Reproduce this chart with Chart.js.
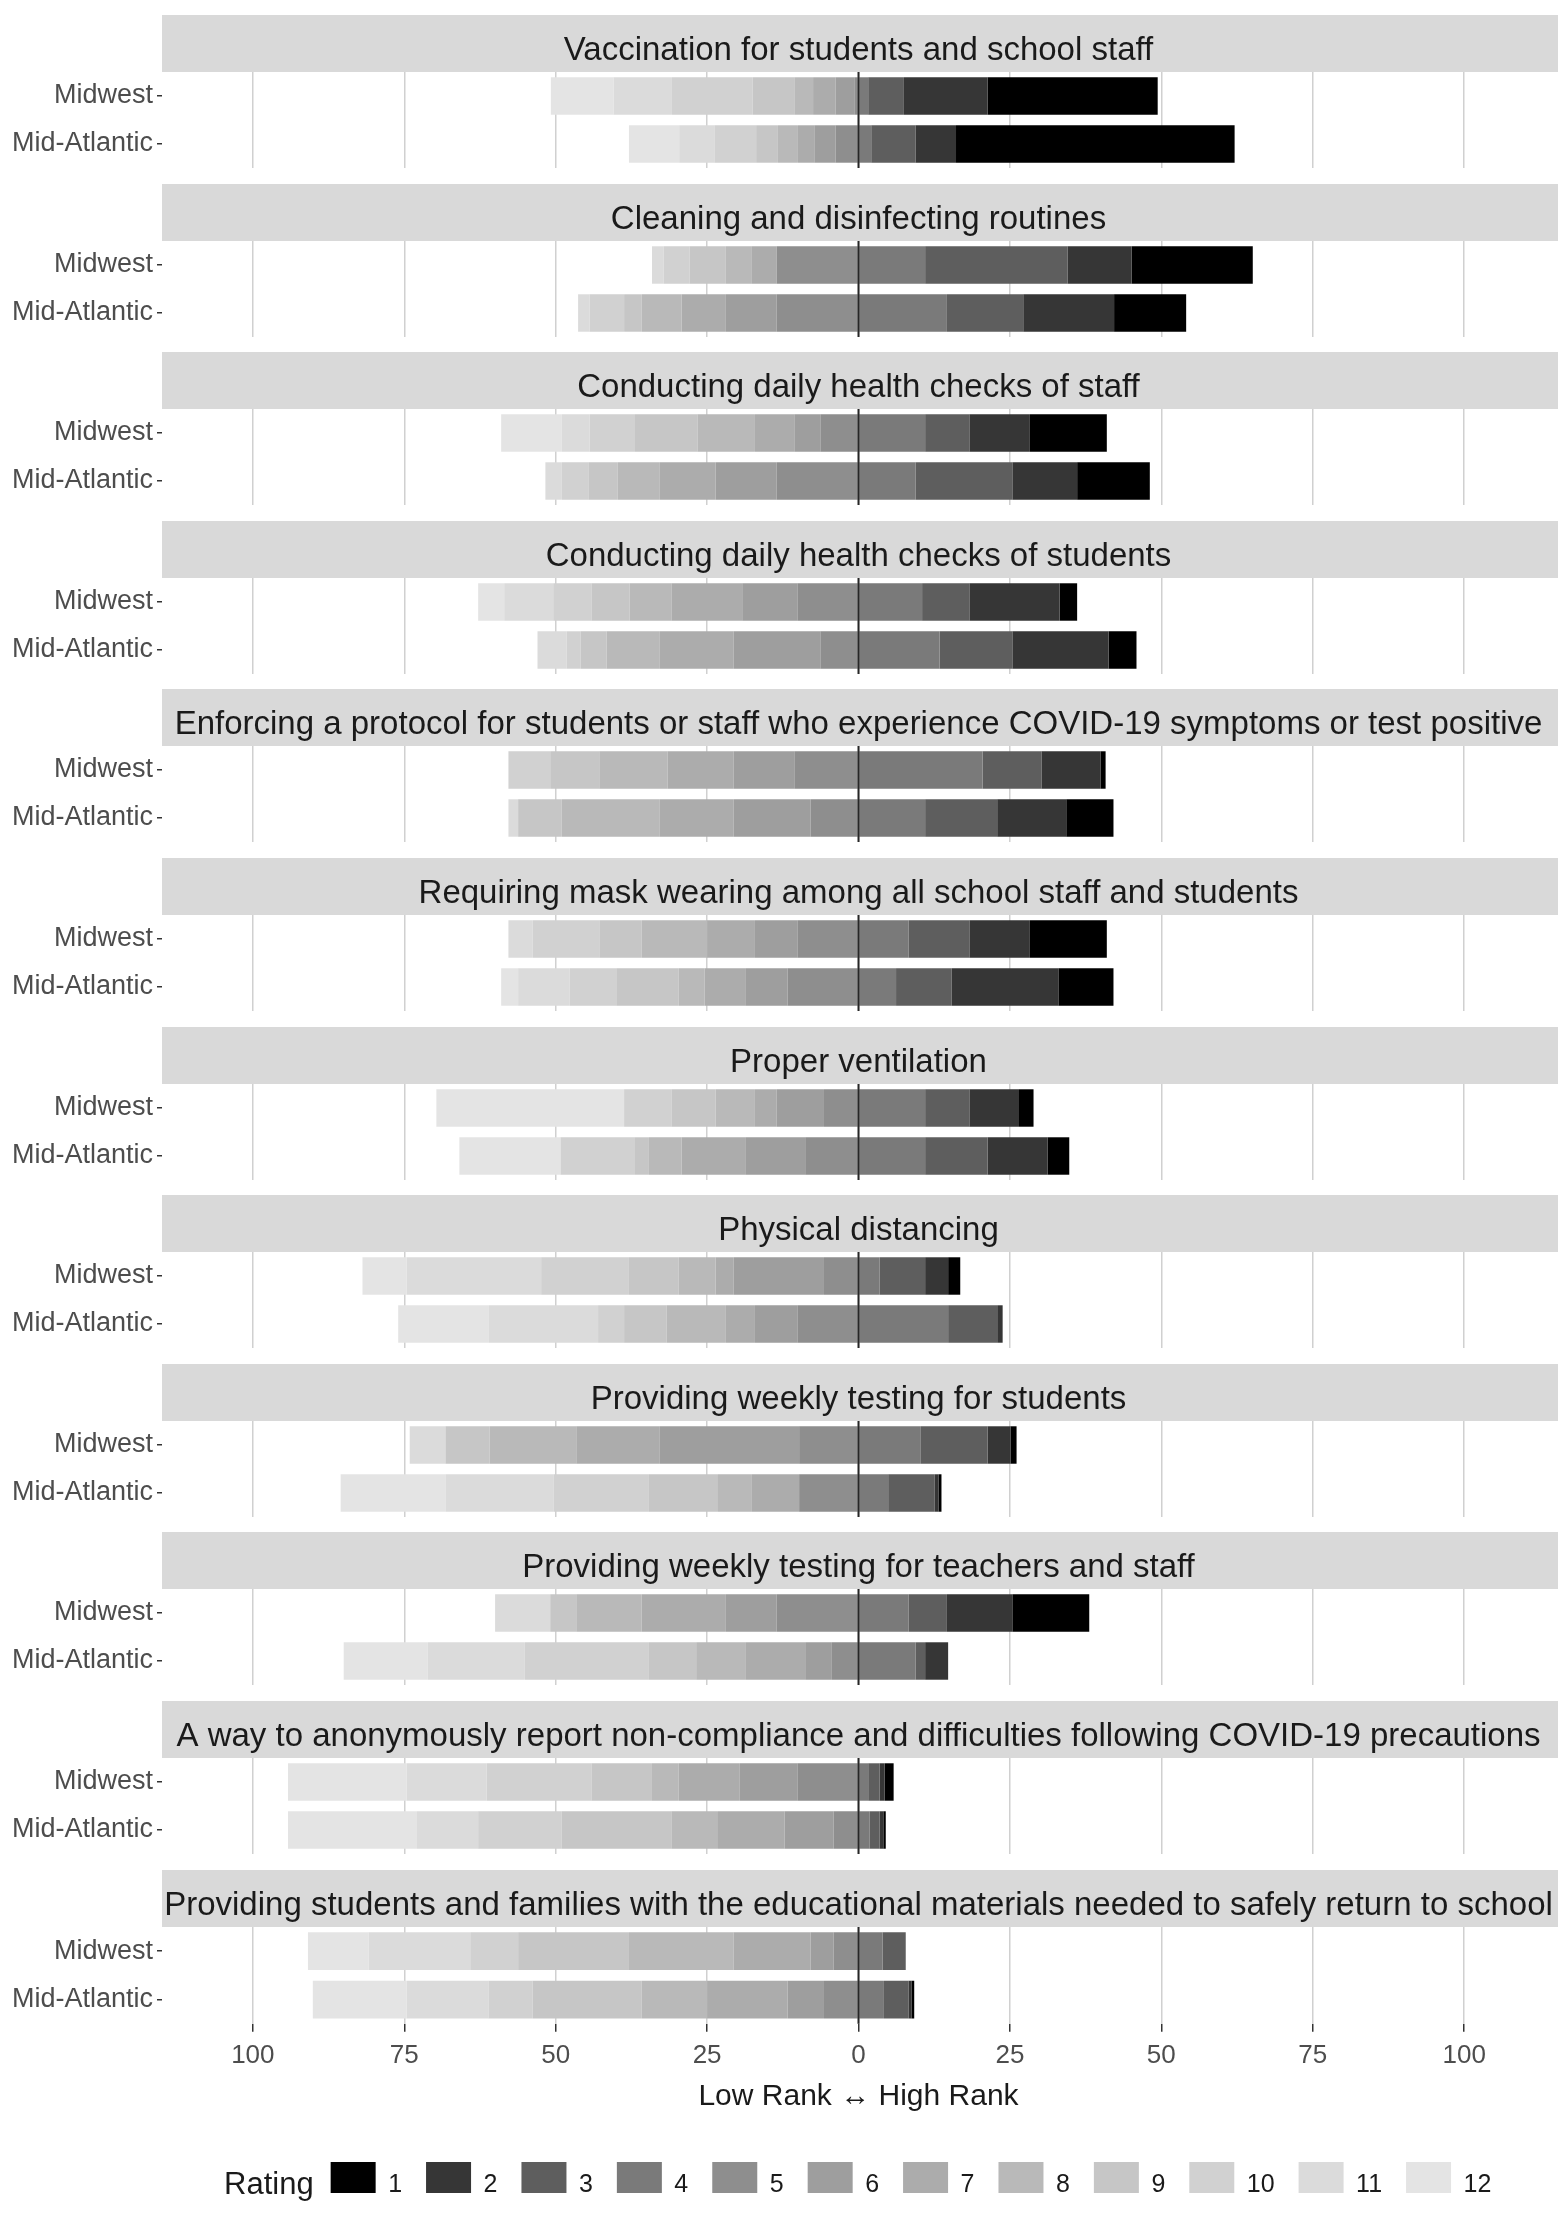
<!DOCTYPE html>
<html>
<head>
<meta charset="utf-8">
<script src="https://cdn.jsdelivr.net/npm/chart.js@4.4.1/dist/chart.umd.min.js"></script>
<style>
  html, body { margin: 0; padding: 0; background: #ffffff; width: 1559px; height: 2213px; overflow: hidden; }
  .facet { position: absolute; left: 0; width: 1559px; }
  #legendWrap { position: absolute; left: 0; width: 1559px; overflow: hidden; }
  #legendInner { position: relative; width: 1822px; height: 110px; }
</style>
</head>
<body>
<div id="root"></div>
<div id="legendWrap"><div id="legendInner"><canvas id="legendCanvas"></canvas></div></div>
<script>
const FONT = "'Liberation Sans', Arial, Helvetica, sans-serif";

const facetTitles = [
  'Vaccination for students and school staff',
  'Cleaning and disinfecting routines',
  'Conducting daily health checks of staff',
  'Conducting daily health checks of students',
  'Enforcing a protocol for students or staff who experience COVID-19 symptoms or test positive',
  'Requiring mask wearing among all school staff and students',
  'Proper ventilation',
  'Physical distancing',
  'Providing weekly testing for students',
  'Providing weekly testing for teachers and staff',
  'A way to anonymously report non-compliance and difficulties following COVID-19 precautions',
  'Providing students and families with the educational materials needed to safely return to school'
];
const regions = ['Midwest', 'Mid-Atlantic'];
const rankLabels = ['1','2','3','4','5','6','7','8','9','10','11','12'];
const rankColors = ['#000000','#363636','#5e5e5e','#7a7a7a','#8e8e8e','#9e9e9e','#acacac','#b9b9b9','#c6c6c6','#d1d1d1','#dbdbdb','#e4e4e4'];
const xTickValues = [-100, -75, -50, -25, 0, 25, 50, 75, 100];
const xAxisTitle = 'Low Rank \u2194 High Rank';
const legendTitle = 'Rating';
const highRankCount = 4; // ranks 1-4 plotted right of zero, ranks 5-12 left of zero

// percentages for ranks 1..12, rows: [Midwest, Mid-Atlantic]
const vaccination   = [[28.1, 13.8, 5.9, 1.6, 0.6, 3.2, 3.7, 3.1, 6.9, 13.3, 9.6, 10.4],
                       [46.0, 6.7, 7.3, 2.1, 3.8, 3.5, 2.7, 3.3, 3.6, 6.9, 5.8, 8.3]];
const cleaning      = [[20.0, 10.6, 23.5, 11.0, 13.5, 0, 4.1, 4.3, 6.0, 4.3, 1.9, 0],
                       [11.9, 15.0, 12.6, 14.6, 13.5, 8.4, 7.3, 6.6, 2.9, 5.7, 1.9, 0]];
const staffChecks   = [[12.7, 10.0, 7.3, 11.0, 6.3, 4.3, 6.5, 9.5, 10.3, 7.5, 4.6, 10.0],
                       [12.0, 10.7, 16.0, 9.4, 13.5, 10.1, 9.2, 7.0, 4.8, 4.4, 2.7, 0]];
const studentChecks = [[2.9, 14.9, 7.8, 10.5, 10.1, 9.1, 11.7, 6.9, 6.3, 6.3, 8.1, 4.3],
                       [4.6, 15.9, 12.0, 13.4, 6.3, 14.3, 12.2, 8.8, 4.3, 2.3, 4.8, 0]];
const protocol      = [[0.8, 9.8, 9.7, 20.5, 10.6, 10.0, 10.9, 11.3, 8.1, 6.9, 0, 0],
                       [7.8, 11.4, 11.9, 11.0, 7.9, 12.7, 12.2, 16.2, 7.2, 0, 1.6, 0]];
const masks         = [[12.7, 10.0, 10.0, 8.3, 10.1, 7.0, 7.9, 10.8, 7.0, 11.0, 4.0, 0],
                       [9.1, 17.6, 9.2, 6.2, 11.7, 7.0, 6.7, 4.3, 10.3, 7.7, 8.5, 2.8]];
const ventilation   = [[2.4, 8.2, 7.3, 11.0, 5.7, 7.8, 3.6, 6.5, 7.3, 7.8, 0, 31.0],
                       [3.6, 9.9, 10.3, 11.0, 8.8, 9.9, 10.5, 5.4, 2.3, 12.3, 0, 16.7]];
const distancing    = [[2.0, 3.8, 7.5, 3.5, 5.7, 14.9, 3.0, 6.1, 8.2, 14.5, 22.2, 7.3],
                       [0, 0.9, 8.1, 14.8, 10.1, 7.0, 4.8, 9.8, 7.0, 4.3, 18.1, 14.9]];
const testStudents  = [[1.0, 3.8, 11.0, 10.3, 9.8, 23.0, 13.8, 14.3, 7.3, 0, 5.9, 0],
                       [0.5, 0.6, 7.7, 4.9, 9.8, 0, 7.8, 5.6, 11.4, 15.7, 17.9, 17.3]];
const testStaff     = [[12.7, 10.8, 6.3, 8.3, 13.5, 8.4, 13.9, 10.8, 4.3, 0, 9.1, 0],
                       [0, 3.8, 1.6, 9.4, 4.4, 4.4, 9.9, 8.1, 7.8, 20.5, 16.0, 13.9]];
const anonymous     = [[1.5, 0.8, 1.9, 1.6, 10.1, 9.5, 10.1, 4.4, 10.0, 17.3, 13.2, 19.6],
                       [0.4, 0.6, 1.7, 1.8, 4.1, 8.1, 11.0, 7.7, 18.1, 13.8, 10.2, 21.2]];
const materials     = [[0, 0, 3.8, 4.0, 4.1, 3.8, 12.7, 17.3, 18.3, 7.9, 16.8, 10.0],
                       [0.4, 0.5, 4.1, 4.2, 5.7, 6.0, 13.3, 10.8, 18.0, 7.3, 13.5, 15.5]];

const facetValues = [vaccination, cleaning, staffChecks, studentChecks, protocol, masks,
                     ventilation, distancing, testStudents, testStaff, anonymous, materials];

const stripPlugin = {
  id: 'strip',
  beforeDraw(chart) {
    const t = chart.titleBlock;
    if (!t || !t.options.display) return;
    const ca = chart.chartArea, ctx = chart.ctx;
    ctx.save();
    ctx.fillStyle = '#d9d9d9';
    ctx.fillRect(ca.left, t.top, ca.right - ca.left + 3, t.bottom - t.top);
    ctx.restore();
  }
};

const zeroLinePlugin = {
  id: 'zeroLine',
  afterDatasetsDraw(chart) {
    const xs = chart.scales.x, ca = chart.chartArea, ctx = chart.ctx;
    const x = xs.getPixelForValue(0);
    ctx.save();
    ctx.strokeStyle = '#262626';
    ctx.lineWidth = 2;
    ctx.beginPath();
    ctx.moveTo(x, ca.top);
    ctx.lineTo(x, ca.bottom);
    ctx.stroke();
    ctx.restore();
  }
};

const legendTitlePlugin = {
  id: 'legendTitle',
  afterDraw(chart) {
    const boxes = chart.legend && chart.legend.legendHitBoxes;
    if (!boxes || !boxes.length) return;
    const b = boxes[0], ctx = chart.ctx;
    ctx.save();
    ctx.font = '31px ' + FONT;
    ctx.fillStyle = '#1a1a1a';
    ctx.textAlign = 'right';
    ctx.textBaseline = 'middle';
    ctx.fillText(legendTitle, b.left - 17, b.top + b.height / 2);
    ctx.restore();
  }
};

const stackOrder = [3, 2, 1, 0, 4, 5, 6, 7, 8, 9, 10, 11];

function facetConfig(i) {
  const vals = facetValues[i];
  const isLast = i === facetTitles.length - 1;
  const datasets = stackOrder.map(k => ({
    label: rankLabels[k],
    data: vals.map(row => k < highRankCount ? row[k] : -row[k]),
    backgroundColor: rankColors[k],
    borderWidth: 0,
    stack: 'rank'
  }));
  return {
    type: 'bar',
    data: { labels: regions, datasets },
    options: {
      indexAxis: 'y',
      responsive: true,
      maintainAspectRatio: false,
      animation: false,
      layout: { autoPadding: false, padding: { left: 0, right: 4, top: 0, bottom: 0 } },
      datasets: { bar: { categoryPercentage: 1, barPercentage: 0.78 } },
      scales: {
        x: {
          type: 'linear', min: -115, max: 115, stacked: true,
          afterBuildTicks: (axis) => { axis.ticks = xTickValues.map(v => ({ value: v })); },
          grid: { color: '#d0d0d0', lineWidth: 1.5, drawTicks: isLast, tickLength: 8, tickColor: '#333333' },
          border: { display: false },
          ticks: {
            display: isLast, autoSkip: false, maxRotation: 0,
            callback: (v) => Math.abs(v),
            font: { family: FONT, size: 26 }, color: '#4d4d4d', padding: 8
          },
          title: {
            display: isLast, text: xAxisTitle,
            font: { family: FONT, size: 30 }, color: '#1a1a1a',
            padding: { top: 0, bottom: 2 }
          }
        },
        y: {
          type: 'category', stacked: true, offset: true,
          afterFit: (s) => { s.width = 162; s.paddingTop = 0; s.paddingBottom = 0; },
          grid: { offset: false, drawOnChartArea: false, drawTicks: true, tickLength: 5, tickColor: '#333333', lineWidth: 1.5 },
          border: { display: false },
          ticks: {
            font: { family: FONT, size: 27 }, color: '#4d4d4d', padding: 4
          }
        }
      },
      plugins: {
        legend: { display: false },
        tooltip: { enabled: false },
        title: {
          display: true, text: facetTitles[i], fullSize: false, position: 'top', align: 'center',
          font: { family: FONT, size: 33, weight: 'normal', lineHeight: 1 },
          color: '#1a1a1a',
          padding: { top: 19, bottom: 5 }
        }
      }
    },
    plugins: [stripPlugin, zeroLinePlugin]
  };
}

const root = document.getElementById('root');
facetTitles.forEach((t, i) => {
  const isLast = i === facetTitles.length - 1;
  const div = document.createElement('div');
  div.className = 'facet';
  div.style.top = Math.round(15 + i * 168.6) + 'px';
  div.style.height = (isLast ? 247 : 153) + 'px';
  const canvas = document.createElement('canvas');
  div.appendChild(canvas);
  root.appendChild(div);
  new Chart(canvas, facetConfig(i));
});

const legendWrap = document.getElementById('legendWrap');
legendWrap.style.top = '2138px';
legendWrap.style.height = '75px';
new Chart(document.getElementById('legendCanvas'), {
  type: 'bar',
  data: {
    labels: [],
    datasets: rankLabels.map((r, k) => ({ label: r, data: [], backgroundColor: rankColors[k], borderWidth: 0 }))
  },
  options: {
    responsive: true,
    maintainAspectRatio: false,
    animation: false,
    scales: { x: { display: false }, y: { display: false } },
    plugins: {
      title: { display: false },
      tooltip: { enabled: false },
      legend: {
        display: true, position: 'top', align: 'center',
        labels: { boxWidth: 45, boxHeight: 47, padding: 24, font: { family: FONT, size: 25 }, color: '#1a1a1a' }
      }
    }
  },
  plugins: [legendTitlePlugin]
});
</script>
</body>
</html>
